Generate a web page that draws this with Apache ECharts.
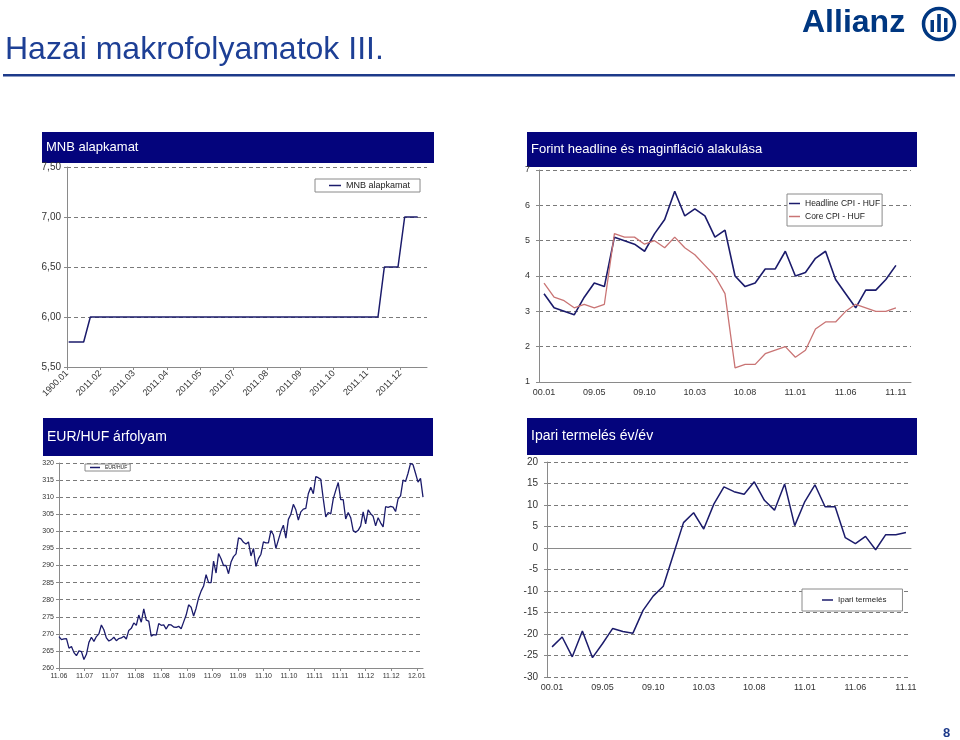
<!DOCTYPE html>
<html>
<head>
<meta charset="utf-8">
<script src="https://cdn.jsdelivr.net/npm/echarts@6/dist/echarts.min.js"></script>
<style>
html, body { margin: 0; background: #fff; }
#chart { width: 960px; height: 740px; }
</style>
</head>
<body>
<div id="chart"></div>
<script>
// MNB alapkamat (x = months from axis start)
const rateTicks = ['1900.01', '2011.02', '2011.03', '2011.04', '2011.05', '2011.07', '2011.08', '2011.09', '2011.10', '2011.11', '2011.12'];
const rateTimes = [0.05, 0.5, 0.7, 9.33, 9.52, 9.93, 10.13, 10.52];
const rateValues = [5.75, 5.75, 6.00, 6.00, 6.50, 6.50, 7.00, 7.00];

// monthly series 2008.12 - 2011.11
const months = ['08.12',
  '09.01', '09.02', '09.03', '09.04', '09.05', '09.06', '09.07', '09.08', '09.09', '09.10', '09.11', '09.12',
  '10.01', '10.02', '10.03', '10.04', '10.05', '10.06', '10.07', '10.08', '10.09', '10.10', '10.11', '10.12',
  '11.01', '11.02', '11.03', '11.04', '11.05', '11.06', '11.07', '11.08', '11.09', '11.10', '11.11'];
const monthTicks = ['00.01', '09.05', '09.10', '10.03', '10.08', '11.01', '11.06', '11.11'];

const headlineCpi = [3.5, 3.1, 3.0, 2.9, 3.4, 3.8, 3.7, 5.1, 5.0, 4.9, 4.7, 5.2, 5.6, 6.4, 5.7, 5.9, 5.7, 5.1,
  5.3, 4.0, 3.7, 3.8, 4.2, 4.2, 4.7, 4.0, 4.1, 4.5, 4.7, 3.9, 3.5, 3.1, 3.6, 3.6, 3.9, 4.3];
const coreCpi = [3.8, 3.4, 3.3, 3.1, 3.2, 3.1, 3.2, 5.2, 5.1, 5.1, 4.9, 5.0, 4.8, 5.1, 4.8, 4.6, 4.3, 4.0,
  3.5, 1.4, 1.5, 1.5, 1.8, 1.9, 2.0, 1.7, 1.9, 2.5, 2.7, 2.7, 3.0, 3.2, 3.1, 3.0, 3.0, 3.1];

const industry = [-23, -20.7, -25.3, -19.3, -25.5, -22.2, -18.7, -19.4, -19.8, -14.5, -11.2, -8.9, -1.5, 5.9,
  8.2, 4.4, 10.2, 14.2, 13.1, 12.5, 15.4, 11.1, 8.8, 14.9, 5.2, 10.8, 14.7, 9.6, 9.6, 2.4, 1.0, 2.7, -0.4,
  3.1, 3.1, 3.6];

// EUR/HUF daily fixings
const eurTicks = ['11.06', '11.07', '11.07', '11.08', '11.08', '11.09', '11.09', '11.09', '11.10', '11.10',
  '11.11', '11.11', '11.12', '11.12', '12.01'];
const eurHuf = [269.2, 268.3, 268.5, 268.6, 265.8, 266.3, 264.5, 263.6, 265.0, 264.8, 262.5, 264.0, 267.5,
  269.0, 267.8, 269.2, 270.0, 272.6, 271.2, 268.8, 267.9, 268.3, 269.0, 268.0, 268.6, 268.8, 269.3, 268.5,
  271.0, 271.6, 273.2, 272.5, 275.5, 273.4, 277.3, 274.0, 273.7, 269.3, 269.8, 269.6, 273.0, 272.5, 272.6,
  271.4, 272.7, 272.6, 272.0, 271.9, 272.2, 271.5, 273.5, 275.5, 278.5, 277.8, 275.2, 277.5, 280.5, 282.5,
  284.0, 287.3, 285.0, 285.0, 291.3, 287.8, 293.5, 292.0, 290.0, 290.0, 287.6, 291.0, 292.6, 293.4, 298.1,
  297.8, 296.8, 296.3, 296.9, 292.8, 295.0, 289.7, 292.0, 293.3, 296.9, 296.6, 296.6, 300.2, 299.0, 295.0,
  297.5, 300.0, 301.8, 298.0, 303.5, 305.0, 307.9, 306.3, 303.3, 305.7, 306.5, 306.7, 311.0, 312.9, 311.0,
  316.0, 315.7, 315.2, 309.5, 304.2, 305.5, 305.1, 309.5, 312.0, 314.3, 309.3, 309.3, 303.6, 305.5, 304.0,
  300.2, 299.7, 300.3, 301.6, 305.7, 302.2, 306.3, 305.2, 304.4, 301.6, 304.0, 302.5, 301.3, 307.2, 307.0,
  307.3, 307.1, 305.8, 309.5, 310.4, 315.0, 314.6, 317.0, 319.9, 319.5, 317.0, 314.4, 315.5, 310.0];

const NAVY = '#1b1b6b';
const FONT = '"Liberation Sans", Arial, sans-serif';
const eurStep = 10.25;

const chart = echarts.init(document.getElementById('chart'));

const grid = (g) => Object.assign({ containLabel: false, show: false }, g);
const dashed = { show: true, lineStyle: { type: [4, 3], color: '#7a7a7a', width: 1 } };
const axisLine = { show: true, onZero: true, lineStyle: { color: '#8a8a8a', width: 1 } };
const tick = { show: true, length: 3, lineStyle: { color: '#8a8a8a' } };

function titleBar(x, y, w, h, text, size) {
  return [
    { type: 'rect', shape: { x: x, y: y, width: w, height: h }, style: { fill: '#04047c' } },
    { type: 'text', x: x + 4, y: y + h / 2, style: { text: text, fill: '#fff', font: size + 'px ' + FONT, verticalAlign: 'middle' } }
  ];
}

function legendBox(names, pos, fontSize, iconW) {
  return Object.assign({
    data: names, icon: 'rect', itemWidth: iconW, itemHeight: 1.5, backgroundColor: '#fff',
    borderColor: '#8a8a8a', borderWidth: 1, textStyle: { fontSize: fontSize, color: '#222' }
  }, pos);
}

const option = {
  animation: false,
  backgroundColor: '#fff',
  textStyle: { fontFamily: FONT },
  graphic: [
    { type: 'text', x: 5, y: 34, style: { text: 'Hazai makrofolyamatok III.', fill: '#1d3f95', font: '32px ' + FONT } },
    { type: 'rect', shape: { x: 3, y: 74, width: 952, height: 2.5 }, style: { fill: '#1d3a8a' } },
    { type: 'text', x: 802, y: 7, style: { text: 'Allianz', fill: '#003781', font: 'bold 32px ' + FONT } },
    { type: 'circle', shape: { cx: 939, cy: 24, r: 15.5 }, style: { fill: 'none', stroke: '#003781', lineWidth: 3.5 } },
    { type: 'rect', shape: { x: 930.5, y: 20, width: 3.5, height: 12 }, style: { fill: '#003781' } },
    { type: 'rect', shape: { x: 937.2, y: 14, width: 3.6, height: 18 }, style: { fill: '#003781' } },
    { type: 'rect', shape: { x: 944, y: 18, width: 3.5, height: 14 }, style: { fill: '#003781' } },
    { type: 'text', x: 943, y: 727, style: { text: '8', fill: '#1d3a8a', font: 'bold 13px ' + FONT } }
  ].concat(
    titleBar(42, 132, 392, 31, 'MNB alapkamat', 13),
    titleBar(527, 132, 390, 35, 'Forint headline és maginfláció alakulása', 13),
    titleBar(43, 418, 390, 38, 'EUR/HUF árfolyam', 14),
    titleBar(527, 418, 390, 37, 'Ipari termelés év/év', 14)
  ),
  legend: [
    legendBox(['MNB alapkamat'], { left: 315, top: 179, padding: [2, 10, 2, 14] }, 9, 12),
    legendBox(['Headline CPI - HUF', 'Core CPI - HUF'], { orient: 'vertical', left: 787, top: 194, padding: [5, 2, 5, 2], itemGap: 4 }, 8.5, 11),
    legendBox(['EUR/HUF'], { left: 85, top: 464, padding: [1, 3, 1, 5] }, 5, 10),
    legendBox(['Ipari termelés'], { left: 802, top: 589, padding: [7, 16, 7, 20] }, 8, 11)
  ],
  grid: [
    grid({ left: 67, top: 167, width: 360, height: 200 }),
    grid({ left: 539, top: 170, width: 372, height: 212 }),
    grid({ left: 59, top: 463, width: 364, height: 205 }),
    grid({ left: 547, top: 462, width: 364, height: 215 })
  ],
  xAxis: [
    { gridIndex: 0, type: 'value', min: 0, max: 10.8, interval: 1, axisLine: axisLine, axisTick: tick, splitLine: { show: false },
      axisLabel: { rotate: 45, fontSize: 9, color: '#333', margin: 5, showMaxLabel: false,
        formatter: (v) => Number.isInteger(v) ? (rateTicks[v] || '') : '' } },
    { gridIndex: 1, type: 'category', boundaryGap: true, data: months.concat(['']), axisLine: axisLine,
      axisTick: { show: false }, splitLine: { show: false },
      axisLabel: { interval: 4, fontSize: 9, color: '#333', margin: 6, formatter: (v, i) => monthTicks[i / 5] } },
    { gridIndex: 2, type: 'value', min: 0, max: eurHuf.length - 1, interval: eurStep, axisLine: axisLine, axisTick: tick,
      splitLine: { show: false },
      axisLabel: { fontSize: 7, color: '#333', margin: 5, showMaxLabel: false,
        formatter: (v) => { const k = Math.round(v / eurStep); return Math.abs(v / eurStep - k) < 0.01 ? (eurTicks[k] || '') : ''; } } },
    { gridIndex: 3, type: 'category', boundaryGap: true, data: months, axisLine: axisLine,
      axisTick: { show: false }, splitLine: { show: false },
      axisLabel: { interval: 4, fontSize: 9, color: '#333', margin: 6, formatter: (v, i) => monthTicks[i / 5] } }
  ],
  yAxis: [
    { gridIndex: 0, type: 'value', min: 5.5, max: 7.5, interval: 0.5, axisLine: axisLine, axisTick: tick, splitLine: dashed,
      axisLabel: { fontSize: 10, color: '#333', margin: 6, formatter: (v) => v.toFixed(2).replace('.', ',') } },
    { gridIndex: 1, type: 'value', min: 1, max: 7, interval: 1, axisLine: axisLine, axisTick: tick, splitLine: dashed,
      axisLabel: { fontSize: 9, color: '#333', margin: 9 } },
    { gridIndex: 2, type: 'value', min: 260, max: 320, interval: 5, axisLine: axisLine, axisTick: tick, splitLine: dashed,
      axisLabel: { fontSize: 7, color: '#333', margin: 5 } },
    { gridIndex: 3, type: 'value', min: -30, max: 20, interval: 5, axisLine: axisLine, axisTick: tick, splitLine: dashed,
      axisLabel: { fontSize: 10, color: '#333', margin: 9 } }
  ],
  series: [
    { name: 'MNB alapkamat', type: 'line', xAxisIndex: 0, yAxisIndex: 0, symbol: 'none',
      lineStyle: { color: NAVY, width: 1.5 }, itemStyle: { color: NAVY },
      data: rateTimes.map((t, i) => [t, rateValues[i]]) },
    { name: 'Headline CPI - HUF', type: 'line', xAxisIndex: 1, yAxisIndex: 1, symbol: 'none',
      lineStyle: { color: NAVY, width: 1.6 }, itemStyle: { color: NAVY }, data: headlineCpi },
    { name: 'Core CPI - HUF', type: 'line', xAxisIndex: 1, yAxisIndex: 1, symbol: 'none',
      lineStyle: { color: '#c97474', width: 1.3 }, itemStyle: { color: '#c97474' }, data: coreCpi },
    { name: 'EUR/HUF', type: 'line', xAxisIndex: 2, yAxisIndex: 2, symbol: 'none',
      lineStyle: { color: NAVY, width: 1.3 }, itemStyle: { color: NAVY },
      data: eurHuf.map((v, i) => [i, v]) },
    { name: 'Ipari termelés', type: 'line', xAxisIndex: 3, yAxisIndex: 3, symbol: 'none',
      lineStyle: { color: NAVY, width: 1.5 }, itemStyle: { color: NAVY }, data: industry }
  ]
};

chart.setOption(option);
</script>
</body>
</html>
